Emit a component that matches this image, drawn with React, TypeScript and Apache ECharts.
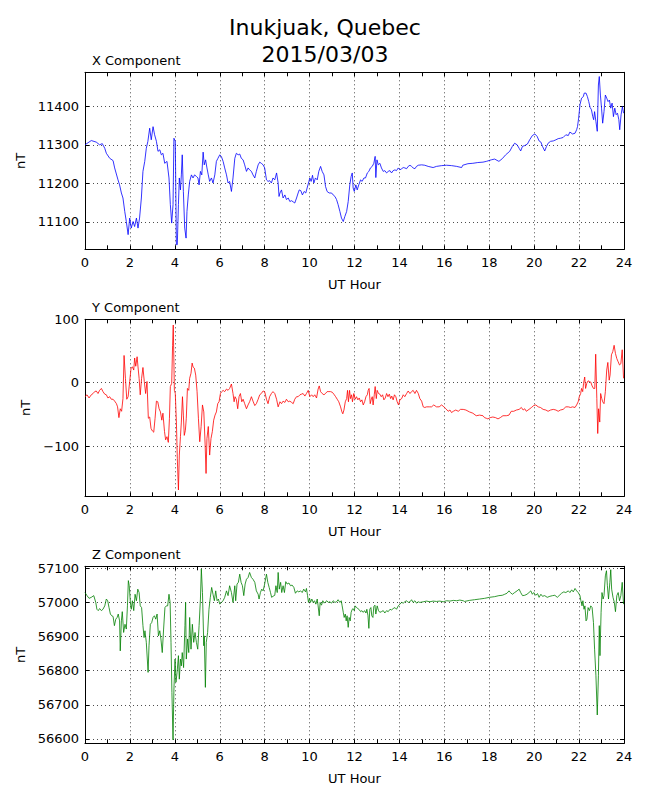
import React, { useEffect, useRef } from "react";
import * as echarts from "echarts";

// ---------- data ----------
const titleLines = ["Inukjuak, Quebec", "2015/03/03"];
const panelTitles = ["X Component", "Y Component", "Z Component"];
const xAxisName = "UT Hour";
const yAxisName = "nT";

const xTickValues = [11100, 11200, 11300, 11400];
const yTickValues = [-100, 0, 100];
const zTickValues = [56600, 56700, 56800, 56900, 57000, 57100];

const xRange = [11029, 11488];
const yRange = [-179, 100];
const zRange = [56587, 57106];

const xHours = [
  0, 0.28, 0.5, 0.65, 0.77, 0.88, 0.95, 1.1, 1.25, 1.32, 1.47, 1.54, 1.62, 1.69, 1.77, 1.84, 1.92, 1.99, 2.06, 2.14,
  2.21, 2.29, 2.36, 2.43, 2.51, 2.58, 2.66, 2.73, 2.8, 2.88, 2.95, 3.03, 3.1, 3.18, 3.25, 3.33, 3.4, 3.47, 3.55, 3.65,
  3.74, 3.8, 3.86, 3.92, 3.96, 4.02, 4.07, 4.11, 4.16, 4.2, 4.25, 4.29, 4.33, 4.38, 4.44, 4.5, 4.54, 4.6, 4.66, 4.74,
  4.81, 4.88, 4.96, 5.03, 5.08, 5.14, 5.2, 5.26, 5.31, 5.37, 5.43, 5.49, 5.55, 5.63, 5.7, 5.78, 5.85, 5.92, 6.0, 6.07,
  6.15, 6.22, 6.3, 6.37, 6.44, 6.52, 6.59, 6.67, 6.74, 6.82, 6.89, 6.96, 7.04, 7.11, 7.19, 7.26, 7.33, 7.41, 7.48, 7.56,
  7.63, 7.71, 7.78, 7.85, 7.93, 8.0, 8.08, 8.15, 8.22, 8.3, 8.37,
  8.45, 8.53, 8.6, 8.64, 8.68, 8.75, 8.82, 8.9, 8.97, 9.05, 9.12, 9.2, 9.27, 9.34, 9.42, 9.49, 9.54, 9.61, 9.68, 9.76,
  9.83, 9.89, 9.97, 10.01, 10.07, 10.13, 10.19, 10.26, 10.34, 10.41, 10.49, 10.56, 10.64, 10.71, 10.78, 10.87, 10.98,
  11.05, 11.13, 11.2, 11.27, 11.35, 11.42, 11.5, 11.57, 11.65, 11.72, 11.79, 11.85, 11.9, 11.94, 11.99, 12.06, 12.12,
  12.19, 12.27, 12.34, 12.42, 12.49, 12.57, 12.64, 12.71, 12.79, 12.86, 12.92, 12.95, 13.0, 13.06, 13.13, 13.2, 13.28,
  13.35, 13.43, 13.5, 13.58, 13.65, 13.72, 13.8, 13.87, 13.95, 14.02, 14.1, 14.17, 14.24, 14.32, 14.39, 14.47, 14.54,
  14.61, 14.69, 14.76, 14.84, 14.99, 15.13, 15.28, 15.5, 15.65, 15.88, 16.1, 16.32, 16.55, 16.77,
  16.82, 17.05, 17.27, 17.49, 17.72, 17.87, 18.09, 18.24, 18.43, 18.58, 18.73, 18.91, 19.03, 19.13, 19.24, 19.33, 19.4,
  19.48, 19.58, 19.7, 19.8, 19.92, 20.03, 20.13, 20.22, 20.3, 20.37, 20.47, 20.55, 20.62, 20.73, 20.85, 20.97, 21.07,
  21.17, 21.29, 21.41, 21.52, 21.59, 21.71, 21.82, 21.89, 21.93, 21.98, 22.04, 22.11, 22.19, 22.23, 22.31, 22.37, 22.43,
  22.49, 22.55, 22.61, 22.65, 22.69, 22.75, 22.81, 22.86, 22.9, 22.95, 23.0, 23.05, 23.11, 23.17, 23.23, 23.29, 23.35,
  23.41, 23.47, 23.53, 23.59, 23.65, 23.71, 23.77, 23.81, 23.87, 23.93, 23.98,
];
const xValues = [
  11300, 11311, 11307, 11300, 11303, 11291, 11278, 11265, 11259, 11240, 11209, 11196, 11175, 11162, 11127, 11101, 11067,
  11110, 11084, 11101, 11088, 11110, 11084, 11110, 11162, 11231, 11257, 11291, 11309, 11343, 11313, 11347, 11326, 11309,
  11283, 11287, 11274, 11278, 11252, 11257, 11214, 11145, 11097, 11145, 11317, 11309, 11041, 11041, 11145, 11214, 11183,
  11222, 11274, 11179, 11084, 11058, 11127, 11170, 11205, 11222, 11214, 11222, 11218, 11214, 11196, 11231, 11222, 11281,
  11248, 11261, 11240, 11222, 11205, 11214, 11201, 11222, 11257, 11265, 11274, 11270, 11257, 11240, 11222, 11201, 11205,
  11179, 11214, 11265, 11278, 11274, 11276, 11265, 11261, 11248, 11231, 11240, 11235, 11231, 11222, 11214, 11231, 11248,
  11255, 11252, 11248, 11240, 11209, 11205, 11207, 11201, 11214,
  11209, 11227, 11201, 11166, 11175, 11183, 11162, 11170, 11158, 11162, 11153, 11155, 11152, 11149, 11162, 11175, 11183,
  11181, 11170, 11179, 11175, 11188, 11205, 11214, 11205, 11221, 11201, 11214, 11209, 11231, 11244, 11231, 11222, 11192,
  11179, 11175, 11175, 11170, 11166, 11158, 11145, 11127, 11110, 11101, 11114, 11127, 11153, 11196, 11218, 11227, 11188,
  11179, 11196, 11183, 11196, 11209, 11205, 11214, 11214, 11227, 11231, 11240, 11244, 11252, 11270, 11215, 11261, 11248,
  11252, 11240, 11231, 11233, 11227, 11231, 11233, 11227, 11233, 11235, 11233, 11240, 11235, 11238, 11241, 11240, 11238,
  11244, 11247, 11244, 11240, 11238, 11244, 11247, 11248, 11247, 11244, 11241, 11244, 11246, 11247, 11246, 11244, 11241,
  11247, 11251, 11252, 11254, 11255, 11257, 11261, 11263, 11257, 11264, 11274, 11283, 11296, 11304, 11300, 11291, 11284,
  11296, 11298, 11302, 11313, 11324, 11328, 11322, 11310, 11307, 11296, 11284, 11296, 11304, 11309, 11310, 11313, 11316,
  11317, 11319, 11326, 11324, 11333, 11328, 11330, 11339, 11347, 11369, 11404, 11421, 11425, 11434, 11434, 11425, 11412,
  11397, 11391, 11373, 11365, 11386, 11360, 11335, 11455, 11477, 11429, 11395, 11356, 11386, 11429, 11421, 11412, 11416,
  11395, 11408, 11373, 11395, 11378, 11382, 11365, 11339, 11378, 11399, 11382,
];

const yHours = [
  0, 0.09, 0.18, 0.28, 0.36, 0.43, 0.5, 0.58, 0.65, 0.73, 0.8, 0.88, 0.95, 1.02, 1.1, 1.17, 1.25, 1.32, 1.4, 1.45, 1.51,
  1.57, 1.63, 1.69, 1.74, 1.8, 1.86, 1.92, 1.99, 2.05, 2.11, 2.17, 2.21, 2.26, 2.32, 2.36, 2.41, 2.46, 2.52, 2.58, 2.64,
  2.7, 2.76, 2.82, 2.88, 2.94, 3.0, 3.06, 3.12, 3.18, 3.24, 3.3, 3.36, 3.42, 3.47, 3.54, 3.59, 3.65, 3.71, 3.76, 3.8,
  3.86, 3.9, 3.93, 3.98, 4.02, 4.07, 4.11, 4.16, 4.2, 4.25, 4.29, 4.34, 4.38, 4.42, 4.47, 4.51, 4.56, 4.62, 4.66, 4.72,
  4.77, 4.81, 4.87, 4.93, 4.99, 5.05, 5.11, 5.17, 5.23, 5.29, 5.35, 5.39, 5.43, 5.49, 5.55, 5.61, 5.67, 5.73, 5.79, 5.85,
  5.91, 5.97, 6.03, 6.09, 6.15, 6.22, 6.3, 6.37, 6.44, 6.52, 6.59, 6.64, 6.68, 6.74, 6.8, 6.86, 6.92, 6.98, 7.04, 7.11,
  7.19, 7.26, 7.33, 7.41, 7.48, 7.56, 7.63, 7.71, 7.78, 7.85, 7.93, 8.0, 8.08, 8.15, 8.22, 8.3, 8.37,
  8.45, 8.53, 8.6, 8.68, 8.75, 8.82, 8.9, 8.97, 9.05, 9.12, 9.2, 9.27, 9.34, 9.42, 9.49, 9.57, 9.64, 9.71, 9.79, 9.86,
  9.94, 10.01, 10.09, 10.16, 10.23, 10.31, 10.38, 10.43, 10.49, 10.56, 10.64, 10.71, 10.78, 10.86, 10.93, 11.01, 11.08,
  11.16, 11.23, 11.3, 11.38, 11.44, 11.48, 11.53, 11.59, 11.65, 11.69, 11.73, 11.78, 11.82, 11.87, 11.91, 11.97, 12.03,
  12.09, 12.15, 12.21, 12.27, 12.33, 12.39, 12.45, 12.51, 12.57, 12.61, 12.65, 12.7, 12.74, 12.79, 12.83, 12.88, 12.92,
  12.97, 13.01, 13.07, 13.13, 13.19, 13.25, 13.31, 13.37, 13.43, 13.49, 13.55, 13.61, 13.66, 13.72, 13.78, 13.84, 13.9,
  13.96, 14.02, 14.1, 14.17, 14.24, 14.32, 14.39, 14.47, 14.54, 14.61, 14.69, 14.76, 14.84, 14.91, 14.99, 15.06, 15.13,
  15.21, 15.33, 15.43, 15.53, 15.65, 15.77, 15.88, 15.98, 16.07, 16.17, 16.25, 16.32, 16.4, 16.51, 16.62, 16.72, 16.84,
  16.96,
  17.12, 17.27, 17.42, 17.57, 17.72, 17.79, 17.87, 17.94, 18.04, 18.16, 18.28, 18.39, 18.49, 18.61, 18.76, 18.88, 18.98,
  19.09, 19.21, 19.33, 19.43, 19.51, 19.58, 19.65, 19.77, 19.88, 19.98, 20.07, 20.18, 20.28, 20.4, 20.52, 20.62, 20.73,
  20.85, 20.97, 21.07, 21.17, 21.29, 21.41, 21.52, 21.62, 21.71, 21.82, 21.89, 21.96, 22.01, 22.07, 22.11, 22.16, 22.2,
  22.25, 22.29, 22.34, 22.4, 22.46, 22.52, 22.58, 22.64, 22.7, 22.74, 22.79, 22.83, 22.87, 22.92, 22.96, 23.01, 23.05,
  23.11, 23.17, 23.23, 23.28, 23.34, 23.38, 23.44, 23.5, 23.56, 23.62, 23.68, 23.74, 23.8, 23.86, 23.92, 23.98,
];
const yValues = [
  -22, -19, -24, -19, -17, -14, -13, -17, -12, -9, -14, -18, -19, -24, -22, -26, -26, -29, -33, -38, -55, -41, -45, -25,
  43, 7, -26, -22, 2, 23, 25, 20, 39, 26, 41, 25, 7, -19, 7, 24, 2, -17, 2, -56, -54, -72, -76, -78, -56, -29, -30, -41,
  -46, -59, -48, -77, -90, -85, -94, -56, -6, -1, 59, 91, -12, -17, -62, -119, -169, -114, -85, -62, -22, -51, -83, -75,
  -56, -9, -12, 7, 15, 31, 25, 23, 12, -14, -56, -93, -69, -35, -46, -98, -143, -88, -69, -114, -88, -77, -59, -51, -46,
  -33, -30, -17, -14, -12, -14, -10, -12, -9, -2, -17, -30, -22, -26, -41, -22, -17, -30, -26, -33, -41, -35, -30, -22,
  -29, -36, -33, -26, -19, -17, -13, -14, -26, -33, -22, -17, -14,
  -17, -26, -38, -30, -33, -29, -31, -26, -30, -29, -31, -33, -26, -22, -22, -19, -18, -17, -21, -17, -12, -22, -19, -22,
  -19, -24, -10, -5, -14, -17, -19, -17, -14, -14, -14, -15, -18, -22, -26, -30, -38, -46, -49, -43, -30, -25, -12, -30,
  -12, -25, -19, -30, -17, -26, -22, -27, -24, -30, -27, -35, -30, -22, -19, -12, -9, -33, -27, -22, -35, -19, -6, -25,
  -12, -17, -18, -22, -19, -27, -24, -17, -22, -18, -25, -21, -27, -19, -22, -30, -35, -27, -25, -19, -22, -17, -13, -17,
  -14, -12, -17, -12, -17, -25, -29, -38, -39, -38, -38, -38, -35, -38, -38, -35, -38, -41, -45, -43, -47, -45, -43, -45,
  -42, -42, -43,
  -46, -48, -52, -51, -52, -55, -56, -57, -55, -54, -55, -57, -55, -52, -52, -51, -45, -45, -43, -42, -39, -43, -41, -45,
  -42, -39, -36, -35, -38, -39, -42, -43, -45, -43, -42, -43, -45, -43, -42, -38, -38, -39, -38, -39, -35, -30, -22, -17,
  -9, -14, -1, 9, -9, -1, 3, 2, 1, -5, -9, -9, 45, -25, -80, -41, -62, -17, -25, -30, -33, -14, 20, 32, 4, 12, 44, 49,
  59, 46, 38, 33, 28, 30, 52, 7,
];

const zHours = [
  0, 0.09, 0.18, 0.28, 0.39, 0.48, 0.53, 0.59, 0.65, 0.73, 0.8, 0.88, 0.95, 1.01, 1.07, 1.13, 1.19, 1.25, 1.31, 1.37,
  1.43, 1.48, 1.54, 1.57, 1.62, 1.66, 1.72, 1.78, 1.84, 1.89, 1.93, 1.97, 2.02, 2.06, 2.11, 2.17, 2.23, 2.29, 2.35, 2.41,
  2.46, 2.52, 2.58, 2.63, 2.67, 2.73, 2.81, 2.85, 2.91, 2.97, 3.03, 3.09, 3.15, 3.21, 3.27, 3.33, 3.38, 3.44, 3.5, 3.56,
  3.62, 3.68, 3.74, 3.79, 3.83, 3.87, 3.92, 3.96, 4.01, 4.05, 4.1, 4.16, 4.2, 4.25, 4.29, 4.33, 4.39, 4.45, 4.48, 4.51,
  4.57, 4.62, 4.66, 4.72, 4.78, 4.84, 4.9, 4.96, 5.02, 5.08, 5.14, 5.18, 5.23, 5.29, 5.31, 5.36, 5.4, 5.46, 5.52, 5.58,
  5.64, 5.7, 5.76, 5.82, 5.88, 5.94, 6.0, 6.07, 6.15, 6.22, 6.3, 6.37, 6.44, 6.52, 6.59, 6.67, 6.71, 6.77, 6.83, 6.89,
  6.95, 7.01, 7.07, 7.13, 7.19, 7.26, 7.33, 7.41, 7.48, 7.56, 7.63, 7.71, 7.75, 7.81, 7.87, 7.93, 8.0, 8.08, 8.14, 8.2,
  8.26, 8.31, 8.37,
  8.45, 8.5, 8.56, 8.6, 8.65, 8.71, 8.76, 8.82, 8.88, 8.94, 9.0, 9.08, 9.15, 9.22, 9.3, 9.37, 9.45, 9.52, 9.6, 9.67, 9.74,
  9.82, 9.86, 9.91, 9.95, 10.0, 10.04, 10.1, 10.16, 10.22, 10.28, 10.34, 10.38, 10.43, 10.47, 10.53, 10.59, 10.65, 10.71,
  10.77, 10.83, 10.9, 10.98, 11.05, 11.13, 11.2, 11.27, 11.35, 11.41, 11.45, 11.5, 11.54, 11.59, 11.63, 11.67, 11.72,
  11.76, 11.81, 11.85, 11.9, 11.94, 11.99, 12.03, 12.09, 12.15, 12.21, 12.27, 12.33, 12.39, 12.45, 12.51, 12.55, 12.6,
  12.64, 12.68, 12.73, 12.77, 12.82, 12.86, 12.91, 12.95, 13.01, 13.07, 13.13, 13.2, 13.28, 13.35, 13.43, 13.5, 13.58,
  13.65, 13.72, 13.8, 13.87, 13.95, 14.02, 14.1, 14.17, 14.24, 14.32, 14.39, 14.47, 14.54, 14.61, 14.69, 14.76, 14.84,
  14.91, 15.06, 15.21, 15.36, 15.5, 15.65, 15.8, 15.95, 16.1, 16.25, 16.4, 16.55, 16.69, 16.84,
  16.9, 17.12, 17.34, 17.57, 17.79, 18.01, 18.24, 18.43, 18.58, 18.69, 18.79, 18.88, 18.94, 19.03, 19.13, 19.24, 19.33,
  19.4, 19.48, 19.58, 19.68, 19.77, 19.85, 19.92, 19.98, 20.07, 20.15, 20.22, 20.3, 20.37, 20.47, 20.58, 20.7, 20.82,
  20.92, 21.03, 21.11, 21.22, 21.32, 21.41, 21.52, 21.59, 21.67, 21.74, 21.82, 21.89, 21.96, 22.04, 22.08, 22.13, 22.17,
  22.22, 22.26, 22.31, 22.35, 22.4, 22.46, 22.52, 22.58, 22.64, 22.69, 22.75, 22.81, 22.86, 22.9, 22.93, 22.98, 23.02,
  23.07, 23.11, 23.17, 23.22, 23.26, 23.31, 23.37, 23.41, 23.45, 23.51, 23.57, 23.62, 23.68, 23.74, 23.8, 23.86, 23.92,
  23.98,
];
const zValues = [
  57029, 57020, 57012, 57015, 57020, 57000, 56980, 56976, 56982, 56976, 56980, 56990, 57010, 57005, 56985, 56966, 56961,
  56959, 56932, 56951, 56956, 56966, 56946, 56858, 56946, 56973, 56912, 56936, 56922, 56990, 57064, 57049, 57000, 56980,
  57005, 56976, 57024, 57005, 57039, 57029, 56990, 56985, 56932, 56897, 56917, 56883, 56795, 56873, 56936, 56941, 56956,
  56961, 56951, 56966, 56902, 56917, 56893, 56853, 56922, 56985, 56990, 56990, 57024, 57000, 56883, 56736, 56597, 56746,
  56834, 56766, 56795, 56844, 56775, 56834, 56814, 56853, 56809, 56932, 57000, 56834, 56893, 56853, 56956, 56863, 56936,
  56883, 56912, 56883, 56863, 56932, 57010, 57098, 57029, 56873, 56902, 56751, 56883, 56912, 56980, 57015, 57044, 57024,
  57005, 57034, 57005, 57010, 56995, 57000, 57005, 57015, 57034, 57020, 57049, 57029, 57000, 57049, 57005, 57054, 57059,
  57083, 57059, 57049, 57020, 57054, 57068, 57073, 57088, 57073, 57068, 57059, 57034, 57024, 57010, 57029, 57039, 57034,
  57054, 57083, 57059, 57044, 57029, 57015, 57018,
  57021, 57049, 57029, 57088, 57039, 57059, 57029, 57049, 57029, 57061, 57054, 57057, 57049, 57051, 57044, 57027, 57034,
  57031, 57034, 57029, 57039, 57031, 57041, 57020, 57000, 57012, 57000, 57010, 57000, 57005, 56995, 57010, 56990, 56961,
  57000, 56992, 57005, 56998, 57002, 57005, 57000, 57002, 56998, 57005, 57000, 57002, 57008, 57000, 57005, 56990, 56971,
  56956, 56966, 56946, 56961, 56927, 56956, 56946, 56971, 56980, 56982, 56976, 56990, 56985, 56982, 56979, 56973, 56976,
  56971, 56976, 56969, 56980, 56961, 56924, 56980, 56985, 56961, 56956, 56988, 56992, 56966, 56990, 56976, 56971, 56973,
  56976, 56969, 56976, 56973, 56980, 56978, 56982, 56985, 56980, 56990, 56995, 57000, 56998, 57002, 57005, 57000, 57002,
  57008, 57000, 57005, 56998, 57002, 57000, 57002, 57004, 57002, 57004, 57003, 57004, 57002, 57005, 57004, 57006, 57005,
  57007, 57005,
  57003, 57006, 57008, 57010, 57012, 57015, 57017, 57020, 57021, 57024, 57027, 57034, 57029, 57024, 57029, 57034, 57039,
  57029, 57020, 57021, 57024, 57029, 57034, 57024, 57029, 57021, 57026, 57015, 57024, 57018, 57020, 57015, 57018, 57020,
  57021, 57015, 57020, 57027, 57031, 57029, 57034, 57029, 57037, 57031, 57041, 57034, 57029, 57020, 57005, 56990, 57005,
  56980, 56990, 56946, 56951, 56985, 56976, 56990, 56985, 56941, 56863, 56785, 56670, 56785, 56932, 56844, 56971, 57029,
  57010, 57020, 57078, 57093, 57049, 57010, 57059, 57096, 57039, 57015, 57000, 56973, 57020, 57029, 57005, 57020, 57059,
  56995,
];

// ---------- layout / style constants ----------
const FONT = "DejaVu Sans";
const PLOT_LEFT = 85;
const PLOT_WIDTH = 539;
const PLOT_HEIGHT = 177;
const PLOT_TOPS = [72.3, 319.3, 566.3];
const NAME_GAPS = [56, 50, 56];
const COLORS = ["#0000ff", "#ff0000", "#008000"];

function pairs(h: number[], v: number[]) {
  return h.map((t, i) => [t, v[i]]);
}

function fmt(v: number) {
  return v < 0 ? "\u2212" + Math.abs(v) : String(v);
}

function buildOption() {
  const panels = [
    { data: pairs(xHours, xValues), range: xRange, ticks: xTickValues },
    { data: pairs(yHours, yValues), range: yRange, ticks: yTickValues },
    { data: pairs(zHours, zValues), range: zRange, ticks: zTickValues },
  ];
  const black = { color: "#000", width: 1 };
  const grid: any[] = [];
  const xAxis: any[] = [];
  const yAxis: any[] = [];
  const series: any[] = [];
  const title: any[] = [
    {
      text: titleLines[0], left: "center", top: 16, padding: 0,
      textStyle: { fontFamily: FONT, fontSize: 22, fontWeight: "normal", color: "#000" },
    },
    {
      text: titleLines[1], left: "center", top: 43.5, padding: 0,
      textStyle: { fontFamily: FONT, fontSize: 22, fontWeight: "normal", color: "#000" },
    },
  ];
  panels.forEach((p, i) => {
    grid.push({ left: PLOT_LEFT, top: PLOT_TOPS[i], width: PLOT_WIDTH, height: PLOT_HEIGHT });
    title.push({
      text: panelTitles[i], left: 92, top: PLOT_TOPS[i] - 18.5, padding: 0,
      textStyle: { fontFamily: FONT, fontSize: 13, fontWeight: "normal", color: "#000" },
    });
    const xCommon = {
      type: "value", gridIndex: i, min: 0, max: 24, interval: 2,
      axisLine: { show: true, onZero: false, lineStyle: black },
      axisTick: { show: true, inside: true, length: 4, lineStyle: black },
      minorTick: { show: true, splitNumber: 2, length: 4, lineStyle: black },
    };
    xAxis.push({
      ...xCommon, position: "bottom",
      axisLabel: { color: "#000", fontFamily: FONT, fontSize: 13, margin: 7 },
      splitLine: { show: true, lineStyle: { color: "#000", width: 0.7, type: [1, 3] } },
      name: xAxisName, nameLocation: "middle", nameGap: 28.5,
      nameTextStyle: { color: "#000", fontFamily: FONT, fontSize: 13 },
    });
    xAxis.push({
      ...xCommon, position: "top",
      axisLabel: { show: false }, splitLine: { show: false },
    });
    const yCommon = {
      type: "value", gridIndex: i, min: p.range[0], max: p.range[1], scale: true,
      axisLine: { show: true, onZero: false, lineStyle: black },
      axisTick: { show: true, inside: true, length: 4, lineStyle: black, customValues: p.ticks },
    };
    yAxis.push({
      ...yCommon, position: "left",
      axisLabel: {
        color: "#000", fontFamily: FONT, fontSize: 13, margin: 6,
        customValues: p.ticks, formatter: (v: number) => fmt(v),
      },
      splitLine: { show: true, lineStyle: { color: "#000", width: 0.7, type: [1, 3] } },
      name: yAxisName, nameLocation: "middle", nameGap: NAME_GAPS[i],
      nameTextStyle: { color: "#000", fontFamily: FONT, fontSize: 13 },
    });
    yAxis.push({
      ...yCommon, position: "right",
      axisLabel: { show: false }, splitLine: { show: false },
    });
    series.push({
      type: "line", xAxisIndex: 2 * i, yAxisIndex: 2 * i, data: p.data,
      showSymbol: false, symbol: "none", silent: true,
      lineStyle: { color: COLORS[i], width: 0.8 }, itemStyle: { color: COLORS[i] },
    });
  });
  return {
    animation: false,
    backgroundColor: "#fff",
    textStyle: { fontFamily: FONT },
    title, grid, xAxis, yAxis, series,
  };
}

export default function App() {
  const ref = useRef<HTMLDivElement>(null);
  useEffect(() => {
    document.body.style.margin = "0";
    if (!ref.current) return;
    const chart = echarts.init(ref.current, null, { renderer: "svg" });
    chart.setOption(buildOption() as any);
    return () => chart.dispose();
  }, []);
  return <div ref={ref} style={{ width: 650, height: 800 }} />;
}
